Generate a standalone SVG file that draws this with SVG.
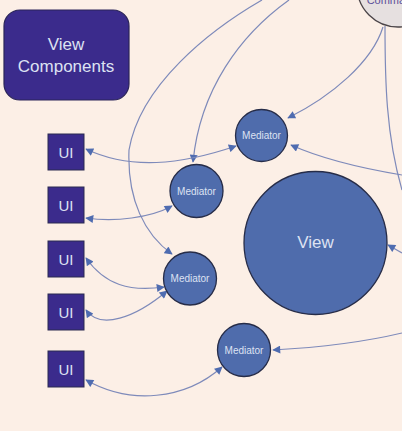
<svg xmlns="http://www.w3.org/2000/svg" width="402" height="431" viewBox="0 0 402 431">
<defs>
<marker id="ah" viewBox="0 0 10 10" refX="9" refY="5" markerWidth="9" markerHeight="8" markerUnits="userSpaceOnUse" orient="auto-start-reverse">
<path d="M0,0 L10,5 L0,10 z" fill="#4f6cb0"/>
</marker>
<style>
.bg{fill:#fcefe6}
.box{fill:#3b2b8c;stroke:#2a2458;stroke-width:1.2}
.ui{fill:#3b2b8c;stroke:#2a2a50;stroke-width:1}
.med{fill:#4f6cac;stroke:#262c48;stroke-width:1.3}
.cmd{fill:#e6e0e0;stroke:#4a4448;stroke-width:1.3}
.t{font-family:"Liberation Sans",Arial,sans-serif;text-anchor:middle;fill:#dde2f2}
.conn path{fill:none;stroke:#7e8aba;stroke-width:1.2}
</style>
</defs>
<rect class="bg" x="0" y="0" width="402" height="431"/>
<g id="connectors" class="conn">
<path d="M383,27 C372,62 332,96 288,118" marker-end="url(#ah)"/>
<path d="M385,26 C385,80 386,135 402,190"/>
<path d="M262,0 C210,30 140,85 129,150 C127,200 145,235 172,254" marker-end="url(#ah)"/>
<path d="M289,0 C240,35 200,90 193,162" marker-end="url(#ah)"/>
<path d="M86,149 C130,170 180,165 236,146" marker-start="url(#ah)" marker-end="url(#ah)"/>
<path d="M86,218 C115,222 150,218 172,206" marker-start="url(#ah)" marker-end="url(#ah)"/>
<path d="M86,258 C105,285 130,292 164,287" marker-start="url(#ah)" marker-end="url(#ah)"/>
<path d="M86,310 C100,330 135,318 167,291" marker-start="url(#ah)" marker-end="url(#ah)"/>
<path d="M86,380 C130,405 185,400 222,367" marker-start="url(#ah)" marker-end="url(#ah)"/>
<path d="M402,175 C360,168 320,158 291,145" marker-end="url(#ah)"/>
<path d="M402,333 C360,343 310,348 273,350" marker-end="url(#ah)"/>
<path d="M402,253 L388,245" marker-end="url(#ah)"/>
</g>
<g id="command">
<circle class="cmd" cx="398" cy="-14" r="41"/>
<text x="392" y="4" font-family="Liberation Sans, Arial, sans-serif" font-size="11" text-anchor="middle" fill="#5a4f9a">Command</text>
</g>
<g id="view-components">
<rect class="box" x="4" y="10" width="125" height="90" rx="16"/>
<text class="t" x="66" y="50" font-size="17">View</text>
<text class="t" x="66" y="72" font-size="17">Components</text>
</g>
<g id="ui1"><rect class="ui" x="48" y="134" width="36" height="36"/><text class="t" x="66" y="158" font-size="15">UI</text></g>
<g id="ui2"><rect class="ui" x="48" y="187" width="36" height="36"/><text class="t" x="66" y="211" font-size="15">UI</text></g>
<g id="ui3"><rect class="ui" x="48" y="241" width="36" height="36"/><text class="t" x="66" y="265" font-size="15">UI</text></g>
<g id="ui4"><rect class="ui" x="48" y="294" width="36" height="36"/><text class="t" x="66" y="318" font-size="15">UI</text></g>
<g id="ui5"><rect class="ui" x="48" y="351" width="36" height="36"/><text class="t" x="66" y="375" font-size="15">UI</text></g>
<g id="mediator1"><circle class="med" cx="261.5" cy="135.5" r="26"/><text class="t" x="261.5" y="139" font-size="10">Mediator</text></g>
<g id="mediator2"><circle class="med" cx="196.5" cy="191" r="26.5"/><text class="t" x="196.5" y="194.5" font-size="10">Mediator</text></g>
<g id="mediator3"><circle class="med" cx="190" cy="278.5" r="26.5"/><text class="t" x="190" y="282" font-size="10">Mediator</text></g>
<g id="mediator4"><circle class="med" cx="244" cy="350" r="26.5"/><text class="t" x="244" y="353.5" font-size="10">Mediator</text></g>
<g id="view"><circle class="med" cx="315.5" cy="243" r="71.5"/><text class="t" x="315.5" y="248" font-size="17">View</text></g>
</svg>
